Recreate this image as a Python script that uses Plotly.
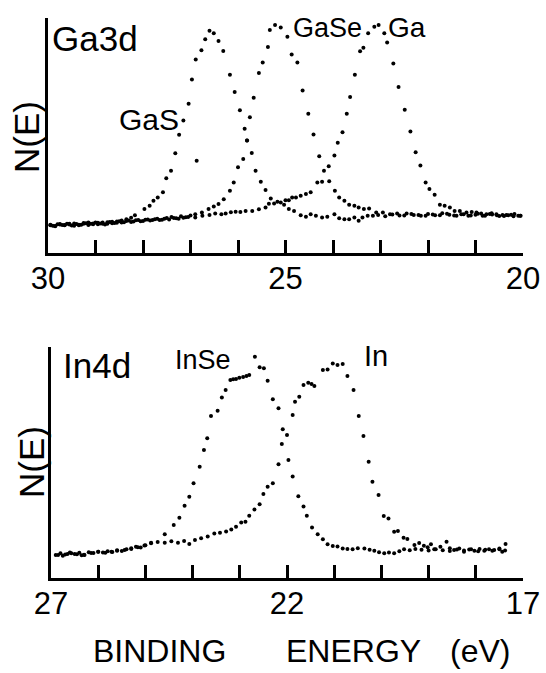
import plotly.graph_objects as go

# ---------------- data (binding energy in eV, N(E) in arbitrary units) ----------------
gas_e = [29.95, 29.85, 29.75, 29.65, 29.55, 29.45, 29.35, 29.25, 29.15, 29.05, 28.95, 28.85,
         28.75, 28.65, 28.55, 28.45, 28.35, 28.25, 28.17, 27.97, 27.86, 27.78, 27.69, 27.58,
         27.51, 27.41, 27.32, 27.24, 27.15, 27.04, 26.97, 26.89, 26.77, 26.69, 26.60, 26.51,
         26.41, 26.31, 26.17, 26.07, 25.96, 25.86, 25.81, 25.71, 25.63, 25.52, 25.42, 25.31,
         25.17, 25.03, 24.93, 24.82, 24.68, 24.57, 24.47, 24.36, 24.23, 24.12, 23.97, 23.87,
         23.76, 23.66, 23.55, 23.46, 23.38, 23.27, 23.16, 23.05, 22.90, 22.75, 22.60, 22.45,
         22.30, 22.15, 22.00, 21.85, 21.70, 21.55, 21.40, 21.25, 21.10, 20.95, 20.80, 20.65,
         20.50, 20.35, 20.20, 20.05, 26.87]
gas_n = [11.8, 11.5, 12.1, 11.8, 12.4, 11.6, 12.0, 12.8, 11.9, 12.6, 12.2, 13.0,
         12.5, 13.3, 12.9, 13.8, 14.4, 15.0, 16.1, 18.7, 20.1, 22.2, 23.6, 25.8,
         31.8, 35.0, 42.4, 50.3, 56.4, 63.5, 73.8, 82.3, 86.3, 91.0, 94.6, 93.5,
         90.2, 86.0, 75.9, 68.5, 60.7, 52.9, 47.9, 42.6, 35.0, 30.3, 26.8, 23.2,
         21.8, 20.5, 18.7, 17.9, 16.1, 15.4, 16.5, 15.8, 15.1, 15.4, 16.5, 14.8,
         14.4, 14.4, 15.1, 13.7, 15.1, 15.8, 15.8, 16.2, 15.6, 16.4, 16.0, 16.8,
         16.2, 15.9, 16.6, 16.1, 16.9, 16.3, 15.8, 16.5, 16.0, 16.7, 15.9, 16.4,
         15.7, 16.2, 15.6, 15.9, 39.3]

gase_e = [29.90, 29.80, 29.70, 29.60, 29.50, 29.40, 29.30, 29.20, 29.10, 29.00, 28.90, 28.80,
          28.70, 28.60, 28.50, 28.40, 28.30, 28.20, 28.10, 28.00, 27.90, 27.80, 27.70, 27.60,
          27.50, 27.40, 27.30, 27.20, 27.10, 27.00, 26.90, 26.76, 26.62, 26.51, 26.41, 26.30,
          26.17, 26.09, 26.00, 25.89, 25.81, 25.75, 25.67, 25.56, 25.48, 25.37, 25.33, 25.22,
          25.10, 24.96, 24.87, 24.75, 24.64, 24.52, 24.41, 24.29, 24.19, 24.08, 23.96, 23.87,
          23.76, 23.66, 23.55, 23.46, 23.35, 23.24, 23.09, 22.95, 22.80, 22.65, 22.50, 22.35,
          22.20, 22.05, 21.90, 21.75, 21.60, 21.45, 21.30, 21.15, 21.00, 20.85, 20.70, 20.55,
          20.40, 20.25, 20.10]
gase_n = [11.6, 12.2, 11.9, 12.5, 11.7, 12.3, 12.0, 12.7, 12.4, 13.0, 12.6, 12.1,
          13.2, 12.8, 13.5, 13.1, 13.8, 13.4, 14.0, 13.6, 14.3, 14.0, 14.6, 14.2,
          14.9, 15.3, 14.8, 15.6, 15.2, 16.0, 16.5, 17.2, 18.7, 19.8, 20.8, 22.9,
          26.5, 30.0, 36.5, 40.0, 47.9, 57.8, 66.1, 76.6, 81.1, 87.7, 94.9, 97.0,
          96.0, 92.0, 84.5, 81.1, 69.2, 59.3, 50.4, 41.2, 35.0, 30.5, 26.5, 23.6,
          22.2, 20.5, 20.1, 19.4, 18.7, 18.9, 17.2, 17.2, 16.5, 16.8, 16.0, 16.6,
          16.2, 15.8, 16.4, 16.1, 16.7, 16.0, 16.5, 15.9, 16.3, 15.8, 16.6, 16.1,
          15.7, 16.3, 15.9]

ga_e = [29.95, 29.85, 29.75, 29.65, 29.55, 29.45, 29.35, 29.25, 29.15, 29.05, 28.95, 28.85,
        28.75, 28.65, 28.55, 28.45, 28.35, 28.25, 28.15, 28.05, 27.95, 27.85, 27.75, 27.65,
        27.55, 27.45, 27.35, 27.25, 27.15, 27.05, 26.90, 26.75, 26.60, 26.48, 26.35, 26.26,
        26.15, 26.05, 25.95, 25.84, 25.70, 25.56, 25.42, 25.35, 25.24, 25.10, 25.00, 24.93,
        24.86, 24.78, 24.68, 24.57, 24.47, 24.33, 24.23, 24.09, 23.97, 23.90, 23.80, 23.71,
        23.64, 23.54, 23.43, 23.36, 23.26, 23.13, 23.04, 22.92, 22.86, 22.73, 22.62, 22.49,
        22.37, 22.26, 22.16, 22.05, 21.97, 21.86, 21.75, 21.65, 21.54, 21.44, 21.33, 21.19,
        21.08, 20.98, 20.88, 20.77, 20.66, 20.56, 20.43, 20.31, 20.18, 20.06]
ga_n = [12.0, 11.4, 12.3, 11.9, 12.1, 12.6, 11.8, 12.4, 13.0, 12.2, 12.9, 12.5,
        13.1, 12.7, 13.4, 13.0, 13.6, 13.2, 13.9, 13.5, 14.1, 13.8, 14.4, 14.0,
        14.6, 14.3, 14.9, 14.6, 15.0, 15.3, 15.1, 15.8, 16.2, 16.8, 16.5, 16.8,
        17.3, 17.6, 17.5, 17.9, 17.9, 18.6, 19.4, 21.0, 21.1, 21.5, 22.5, 22.5,
        23.6, 23.6, 24.4, 25.1, 25.8, 30.0, 30.3, 36.9, 41.5, 46.9, 51.4, 59.3,
        66.4, 75.9, 85.9, 87.3, 93.5, 96.3, 97.0, 93.5, 89.6, 80.6, 70.6, 61.0,
        51.7, 42.9, 37.2, 30.0, 27.2, 24.8, 20.5, 20.1, 19.4, 17.9, 17.9, 17.2,
        17.5, 17.2, 16.8, 16.5, 16.9, 16.5, 16.2, 16.1, 16.6, 15.8]

inse_e = [26.90, 26.80, 26.70, 26.60, 26.50, 26.40, 26.30, 26.20, 26.10, 26.00, 25.90, 25.80,
          25.70, 25.60, 25.50, 25.40, 25.30, 25.20, 25.10, 25.00, 24.88, 24.59, 24.40, 24.28,
          24.17, 24.07, 23.98, 23.85, 23.76, 23.69, 23.61, 23.47, 23.38, 23.30, 23.20, 23.14,
          23.08, 23.01, 22.93, 22.86, 22.80, 22.68, 22.58, 22.49, 22.41, 22.30, 22.18, 22.09,
          21.97, 21.88, 21.76, 21.65, 21.58, 21.47, 21.35, 21.24, 21.14, 21.03, 20.93, 20.82,
          20.72, 20.61, 20.50, 20.36, 20.25, 20.15, 20.05, 19.94, 19.84, 19.73, 19.62, 19.52,
          19.40, 19.28, 19.15, 19.00, 18.85, 18.70, 18.55, 18.40, 18.25, 18.10, 17.95, 17.80,
          17.65, 17.50, 17.38]
inse_n = [10.0, 10.7, 10.2, 11.0, 10.4, 10.9, 10.1, 11.2, 10.8, 11.4, 11.0, 11.6,
          11.3, 12.0, 11.7, 12.4, 12.9, 13.5, 13.2, 14.2, 15.3, 18.9, 22.9, 26.1,
          31.3, 35.2, 41.0, 48.2, 55.4, 60.5, 70.1, 72.4, 78.1, 81.4, 85.7, 86.0,
          86.2, 86.7, 87.0, 87.5, 87.9, 95.8, 91.2, 90.8, 85.4, 77.4, 73.5, 64.4,
          51.1, 43.9, 35.4, 30.9, 27.0, 21.9, 18.9, 16.8, 14.6, 13.9, 13.6, 12.8,
          12.6, 12.4, 12.9, 12.8, 12.2, 11.8, 11.2, 10.7, 11.0, 10.7, 11.6, 12.4,
          12.0, 12.6, 12.2, 11.9, 12.5, 12.0, 11.7, 12.3, 11.9, 12.4, 11.6, 12.2,
          11.8, 12.4, 11.9]

in_e = [26.85, 26.75, 26.65, 26.57, 26.45, 26.35, 26.29, 26.15, 26.00, 25.85, 25.72, 25.60,
        25.44, 25.30, 25.16, 25.02, 24.88, 24.74, 24.59, 24.45, 24.31, 24.18, 24.07, 23.95,
        23.82, 23.68, 23.54, 23.42, 23.29, 23.18, 23.08, 22.97, 22.88, 22.80, 22.69, 22.58,
        22.50, 22.41, 22.30, 22.18, 22.11, 22.00, 21.88, 21.83, 21.74, 21.65, 21.55, 21.48,
        21.42, 21.24, 21.14, 21.03, 20.93, 20.82, 20.72, 20.59, 20.48, 20.38, 20.27, 20.19,
        20.06, 19.95, 19.85, 19.73, 19.65, 19.53, 19.45, 19.30, 19.20, 19.10, 19.02, 18.95,
        18.88, 18.75, 18.62, 18.55, 18.46, 18.35, 18.25, 18.14, 18.03, 17.92, 17.82, 17.72,
        17.61, 17.50, 17.44, 17.37]
in_n = [10.0, 9.6, 10.4, 10.7, 10.3, 9.9, 10.0, 10.8, 11.4, 10.9, 11.4, 11.8,
        12.1, 12.6, 13.3, 14.1, 15.0, 15.6, 15.3, 15.9, 15.3, 16.0, 14.7, 16.4,
        17.2, 18.0, 19.3, 19.6, 20.1, 21.0, 22.2, 24.0, 24.4, 27.0, 29.7, 31.9,
        36.4, 39.5, 41.0, 49.2, 58.0, 61.9, 70.6, 76.3, 78.5, 83.5, 84.5, 84.0,
        83.1, 90.0, 90.3, 92.9, 92.2, 92.6, 87.4, 81.4, 70.1, 61.5, 50.3, 41.7,
        35.9, 26.8, 25.8, 20.0, 20.3, 17.4, 16.9, 14.3, 15.2, 14.0, 13.3, 14.6,
        12.4, 13.5, 15.7, 12.9, 12.1, 12.8, 11.4, 12.3, 11.8, 12.6, 11.8, 12.4,
        12.1, 12.8, 11.4, 14.7]

ga_ticks = [30, 25, 20]
ga_minor = [29, 28, 27, 26, 24, 23, 22, 21]
in_ticks = [27, 22, 17]
in_minor = [26, 25, 24, 23, 21, 20, 19, 18]

# ---------------- figure ----------------
W, H = 546, 673
FONT = "Liberation Sans"


def px(x):
    return x / W


def py(y):
    return 1 - y / H


fig = go.Figure()
marker = dict(color="black", size=4)
for e, n in [(gas_e, gas_n), (gase_e, gase_n), (ga_e, ga_n)]:
    fig.add_trace(go.Scatter(x=e, y=n, mode="markers", marker=marker,
                             xaxis="x", yaxis="y", showlegend=False, hoverinfo="skip"))
for e, n in [(inse_e, inse_n), (in_e, in_n)]:
    fig.add_trace(go.Scatter(x=e, y=n, mode="markers", marker=marker,
                             xaxis="x2", yaxis="y2", showlegend=False, hoverinfo="skip"))

LW = 2.6
TL = 13


def xaxis_cfg(rng, dom, ticks, minor, anchor):
    return dict(range=rng, domain=dom, anchor=anchor, showgrid=False, zeroline=False,
                showline=True, linecolor="black", linewidth=LW,
                tickmode="array", tickvals=ticks, ticktext=[str(t) for t in ticks],
                ticks="inside", ticklen=TL, tickwidth=LW, tickcolor="black",
                tickfont=dict(family=FONT, size=31, color="black"),
                ticklabelstandoff=-4, automargin=False,
                minor=dict(tickmode="array", tickvals=minor, ticks="inside", ticklen=TL,
                           tickwidth=LW, tickcolor="black", showgrid=False),
                fixedrange=True)


def yaxis_cfg(dom, anchor):
    return dict(range=[0, 100], domain=dom, anchor=anchor, showgrid=False, zeroline=False,
                showline=True, linecolor="black", linewidth=LW, ticks="",
                showticklabels=False, automargin=False, fixedrange=True)


fig.update_layout(
    width=W, height=H,
    margin=dict(l=0, r=0, t=0, b=0, autoexpand=False),
    paper_bgcolor="white", plot_bgcolor="white",
    xaxis=xaxis_cfg([30, 20], [px(48), px(523)], ga_ticks, ga_minor, "y"),
    yaxis=yaxis_cfg([py(253), py(18)], "x"),
    xaxis2=xaxis_cfg([27, 17], [px(51), px(523)], in_ticks, in_minor, "y2"),
    yaxis2=yaxis_cfg([py(578), py(347)], "x2"),
)

labels = [
    ("Ga3d", 95, 38, 35, 0),
    ("GaS", 149, 119, 30, 0),
    ("GaSe", 327, 28, 27, 0),
    ("Ga", 407, 28, 28, 0),
    ("In4d", 97, 365, 35, 0),
    ("InSe", 203, 360, 27, 0),
    ("In", 376, 356, 29, 0),
    ("N(E)", 27, 137, 35, -90),
    ("N(E)", 31, 462, 35, -90),
    ("BINDING", 159, 651, 32, 0),
    ("ENERGY", 353, 651, 32, 0),
    ("(eV)", 480, 651, 32, 0),
]
for text, x, y, size, ang in labels:
    fig.add_annotation(text=text, x=px(x), y=py(y), xref="paper", yref="paper",
                       xanchor="center", yanchor="middle", showarrow=False,
                       textangle=ang, font=dict(family=FONT, size=size, color="black"))

fig.write_html("out.html", config={"displayModeBar": False})
